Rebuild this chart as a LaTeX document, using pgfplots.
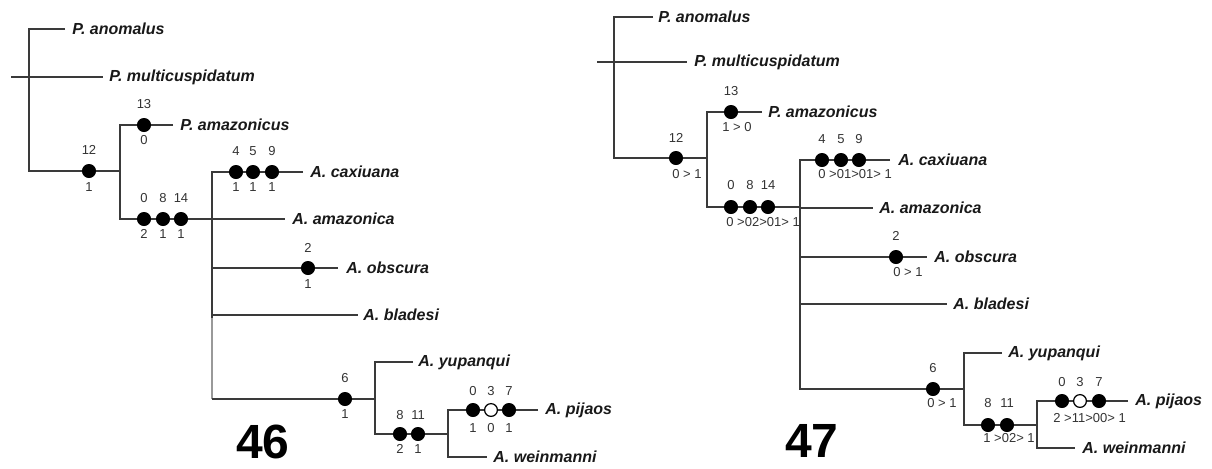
\documentclass[border=0pt]{standalone}
\usepackage{pgfplots}
\pgfplotsset{compat=1.18}
\usepackage{fontspec}
\setmainfont{Liberation Sans}
\definecolor{br}{HTML}{3A3A3A}
\begin{document}
\begin{tikzpicture}[
  tx/.style={anchor=west,inner sep=0pt,font=\bfseries\itshape\fontsize{8}{8}\selectfont,text=black!90},
  nm/.style={inner sep=0pt,font=\fontsize{6.5}{6.5}\selectfont,text=black!80},
  nw/.style={anchor=west,inner sep=0pt,font=\fontsize{6.5}{6.5}\selectfont,text=black!80},
  big/.style={inner sep=0pt,font=\bfseries\fontsize{24}{24}\selectfont}]
\begin{axis}[width=606pt,height=234pt,scale only axis,
  xmin=0,xmax=1212,ymin=0,ymax=468,y dir=reverse,hide axis,clip=false]
\pgfplotsset{b/.style={color=br,line width=0.9pt,mark=none}}
% ---------- tree 46 ----------
\addplot[b] coordinates {(65,29)(29,29)(29,171)(120,171)};
\addplot[b] coordinates {(11,77)(103,77)};
\addplot[b] coordinates {(173,125)(120,125)(120,219)(212,219)};
\addplot[b] coordinates {(303,172)(212,172)(212,318)};
\addplot[b,color=black!40] coordinates {(212,318)(212,399)};
\addplot[b] coordinates {(212,399)(375,399)};
\addplot[b] coordinates {(212,219)(285,219)};
\addplot[b] coordinates {(212,268)(338,268)};
\addplot[b] coordinates {(212,315)(358,315)};
\addplot[b] coordinates {(413,362)(375,362)(375,434)(448,434)};
\addplot[b] coordinates {(538,410)(448,410)(448,457)(487,457)};
% ---------- tree 47 ----------
\addplot[b] coordinates {(653,17)(614,17)(614,158)(707,158)};
\addplot[b] coordinates {(597,62)(687,62)};
\addplot[b] coordinates {(762,112)(707,112)(707,207)(800,207)};
\addplot[b] coordinates {(890,160)(800,160)(800,389)(964,389)};
\addplot[b] coordinates {(800,208)(873,208)};
\addplot[b] coordinates {(800,257)(927,257)};
\addplot[b] coordinates {(800,304)(947,304)};
\addplot[b] coordinates {(1002,353)(964,353)(964,425)(1037,425)};
\addplot[b] coordinates {(1128,401)(1037,401)(1037,448)(1075,448)};
% ---------- dots ----------
\addplot[only marks,mark=*,mark size=3.3pt,color=black] coordinates {
 (89,171)(144,125)(144,219)(163,219)(181,219)(236,172)(253,172)(272,172)
 (308,268)(345,399)(400,434)(418,434)(473,410)(509,410)
 (676,158)(731,112)(731,207)(750,207)(768,207)(822,160)(841,160)(859,160)
 (896,257)(933,389)(988,425)(1007,425)(1062,401)(1099,401)};
\addplot[only marks,mark=*,mark size=3.2pt,color=black,fill=white,line width=0.6pt] coordinates {(491,410)(1080,401)};
% ---------- taxon labels tree 46 ----------
\node[tx] at (axis cs:72,29) {P. anomalus};
\node[tx] at (axis cs:109,77) {P. multicuspidatum};
\node[tx] at (axis cs:180,125) {P. amazonicus};
\node[tx] at (axis cs:310,172) {A. caxiuana};
\node[tx] at (axis cs:292,219) {A. amazonica};
\node[tx] at (axis cs:346,268) {A. obscura};
\node[tx] at (axis cs:363,315) {A. bladesi};
\node[tx] at (axis cs:418,362) {A. yupanqui};
\node[tx] at (axis cs:545,410) {A. pijaos};
\node[tx] at (axis cs:493,457) {A. weinmanni};
% ---------- taxon labels tree 47 ----------
\node[tx] at (axis cs:658,17) {P. anomalus};
\node[tx] at (axis cs:694,62) {P. multicuspidatum};
\node[tx] at (axis cs:768,112) {P. amazonicus};
\node[tx] at (axis cs:898,160) {A. caxiuana};
\node[tx] at (axis cs:879,208) {A. amazonica};
\node[tx] at (axis cs:934,257) {A. obscura};
\node[tx] at (axis cs:953,304) {A. bladesi};
\node[tx] at (axis cs:1008,353) {A. yupanqui};
\node[tx] at (axis cs:1135,401) {A. pijaos};
\node[tx] at (axis cs:1082,448) {A. weinmanni};
% ---------- character numbers tree 46 ----------
\node[nm] at (axis cs:89,150) {12};  \node[nm] at (axis cs:89,187) {1};
\node[nm] at (axis cs:144,104) {13}; \node[nm] at (axis cs:144,140) {0};
\node[nm] at (axis cs:144,198) {0};  \node[nm] at (axis cs:144,234) {2};
\node[nm] at (axis cs:163,198) {8};  \node[nm] at (axis cs:163,234) {1};
\node[nm] at (axis cs:181,198) {14}; \node[nm] at (axis cs:181,234) {1};
\node[nm] at (axis cs:236,151) {4};  \node[nm] at (axis cs:236,187) {1};
\node[nm] at (axis cs:253,151) {5};  \node[nm] at (axis cs:253,187) {1};
\node[nm] at (axis cs:272,151) {9};  \node[nm] at (axis cs:272,187) {1};
\node[nm] at (axis cs:308,248) {2};  \node[nm] at (axis cs:308,284) {1};
\node[nm] at (axis cs:345,378) {6};  \node[nm] at (axis cs:345,414) {1};
\node[nm] at (axis cs:400,415) {8};  \node[nm] at (axis cs:400,449) {2};
\node[nm] at (axis cs:418,415) {11}; \node[nm] at (axis cs:418,449) {1};
\node[nm] at (axis cs:473,391) {0};  \node[nm] at (axis cs:473,428) {1};
\node[nm] at (axis cs:491,391) {3};  \node[nm] at (axis cs:491,428) {0};
\node[nm] at (axis cs:509,391) {7};  \node[nm] at (axis cs:509,428) {1};
% ---------- character numbers tree 47 ----------
\node[nm] at (axis cs:676,138) {12};
\node[nm] at (axis cs:731,91) {13};
\node[nm] at (axis cs:731,185) {0};
\node[nm] at (axis cs:750,185) {8};
\node[nm] at (axis cs:768,185) {14};
\node[nm] at (axis cs:822,139) {4};
\node[nm] at (axis cs:841,139) {5};
\node[nm] at (axis cs:859,139) {9};
\node[nm] at (axis cs:896,236) {2};
\node[nm] at (axis cs:933,368) {6};
\node[nm] at (axis cs:988,403) {8};
\node[nm] at (axis cs:1007,403) {11};
\node[nm] at (axis cs:1062,382) {0};
\node[nm] at (axis cs:1080,382) {3};
\node[nm] at (axis cs:1099,382) {7};
\node[nw] at (axis cs:672,174) {0 > 1};
\node[nw] at (axis cs:722,127) {1 > 0};
\node[nw] at (axis cs:726,222) {0 >02>01> 1};
\node[nw] at (axis cs:818,174) {0 >01>01> 1};
\node[nw] at (axis cs:893,272) {0 > 1};
\node[nw] at (axis cs:927,403) {0 > 1};
\node[nw] at (axis cs:983,438) {1 >02> 1};
\node[nw] at (axis cs:1053,418) {2 >11>00> 1};
% ---------- figure numbers ----------
\node[big] at (axis cs:263,442) {46};
\node[big] at (axis cs:812,441) {47};
\end{axis}
\pgfresetboundingbox
\path (current axis.south west) rectangle (current axis.north east);
\end{tikzpicture}
\end{document}
